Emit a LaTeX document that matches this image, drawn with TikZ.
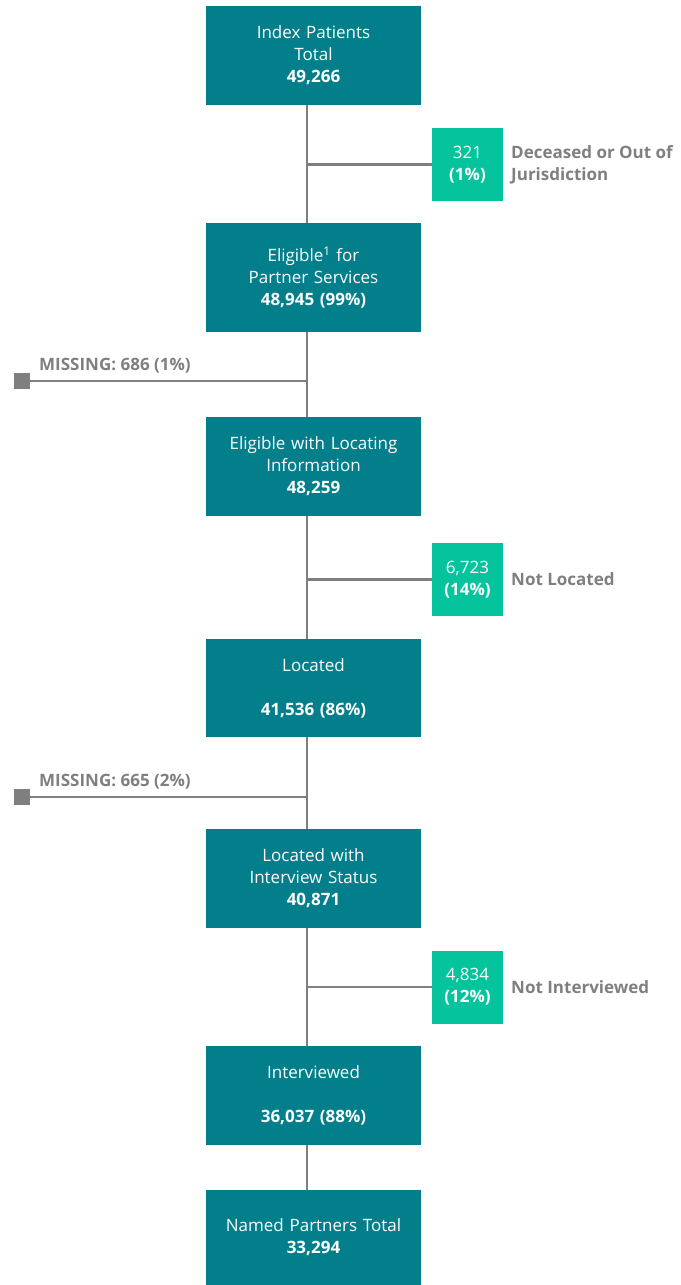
\documentclass[tikz,border=0pt]{standalone}
\usepackage{fontspec}
\setmainfont{Open Sans}
\definecolor{teal1}{HTML}{037F8C}
\definecolor{green1}{HTML}{05C39C}
\definecolor{gline}{HTML}{7F7F7F}
\definecolor{gtext}{HTML}{7F7F7F}
\begin{document}
\begin{tikzpicture}[x=1pt,y=-1pt,
  mainbox/.style={fill=teal1,draw=none,minimum width=215pt,text width=210pt,align=center,text=white,font=\fontsize{17}{22}\selectfont,inner sep=0pt},
  sidebox/.style={fill=green1,draw=none,minimum width=71pt,minimum height=73pt,align=center,text=white,font=\fontsize{17}{22}\selectfont,inner sep=0pt},
  sidelabel/.style={anchor=west,align=left,text=gtext,font=\bfseries\fontsize{17}{22}\selectfont,inner sep=0pt},
  conn/.style={draw=gline,line width=2.2pt},
  endsq/.style={fill=gline,minimum size=16pt,inner sep=0pt,draw=none}]
\useasboundingbox (0,0) rectangle (680,1285);
\node[mainbox,minimum height=99pt] (b1) at (313.5,55.5) {Index Patients\\Total\\\textbf{49,266}};
\node[mainbox,minimum height=109pt] (b2) at (313.5,277.5) {Eligible\textsuperscript{1} for\\Partner Services\\\textbf{48,945 (99\%)}};
\node[mainbox,minimum height=99pt] (b3) at (313.5,466.5) {Eligible with Locating\\Information\\\textbf{48,259}};
\node[mainbox,minimum height=98pt] (b4) at (313.5,688) {Located\\[22pt]\textbf{41,536 (86\%)}};
\node[mainbox,minimum height=99pt] (b5) at (313.5,878.5) {Located with\\Interview Status\\\textbf{40,871}};
\node[mainbox,minimum height=99pt] (b6) at (313.5,1095.5) {Interviewed\\[22pt]\textbf{36,037 (88\%)}};
\node[mainbox,minimum height=95pt] (b7) at (313.5,1237.5) {Named Partners Total\\\textbf{33,294}};
% side boxes
\node[sidebox] (s1) at (467.5,164.5) {321\\\textbf{(1\%)}};
\node[sidebox] (s2) at (467.5,579.5) {6,723\\\textbf{(14\%)}};
\node[sidebox] (s3) at (467.5,987) {4,834\\\textbf{(12\%)}};
\node[sidelabel] (l1) at (511,164.5) {Deceased or Out of\\Jurisdiction};
\node[sidelabel] (l2) at (511,579.5) {Not Located};
\node[sidelabel] (l3) at (511,987) {Not Interviewed};
% junction coordinates
\coordinate (j1) at (307,164.5);
\coordinate (j2) at (307,381);
\coordinate (j3) at (307,579.5);
\coordinate (j4) at (307,797);
\coordinate (j5) at (307,987);
\node[endsq] (m1) at (22,381) {};
\node[endsq] (m2) at (22,797) {};
\node[anchor=south west,text=gtext,font=\bfseries\fontsize{17}{20}\selectfont,inner sep=0pt] (t1) at (39,373) {MISSING: 686 (1\%)};
\node[anchor=south west,text=gtext,font=\bfseries\fontsize{17}{20}\selectfont,inner sep=0pt] (t2) at (39,789) {MISSING: 665 (2\%)};
% connectors
\draw[conn] (b1.south -| j1) -- (b2.north -| j1);
\draw[conn] (b2.south -| j2) -- (b3.north -| j2);
\draw[conn] (b3.south -| j3) -- (b4.north -| j3);
\draw[conn] (b4.south -| j4) -- (b5.north -| j4);
\draw[conn] (b5.south -| j5) -- (b6.north -| j5);
\draw[conn] (b6.south -| j5) -- (b7.north -| j5);
\draw[conn] (j1) -- (s1.west);
\draw[conn] (j3) -- (s2.west);
\draw[conn] (j5) -- (s3.west);
\draw[conn] (j2) -- (m1.center);
\draw[conn] (j4) -- (m2.center);
\node[endsq] at (m1) {};
\node[endsq] at (m2) {};
\end{tikzpicture}
\end{document}
